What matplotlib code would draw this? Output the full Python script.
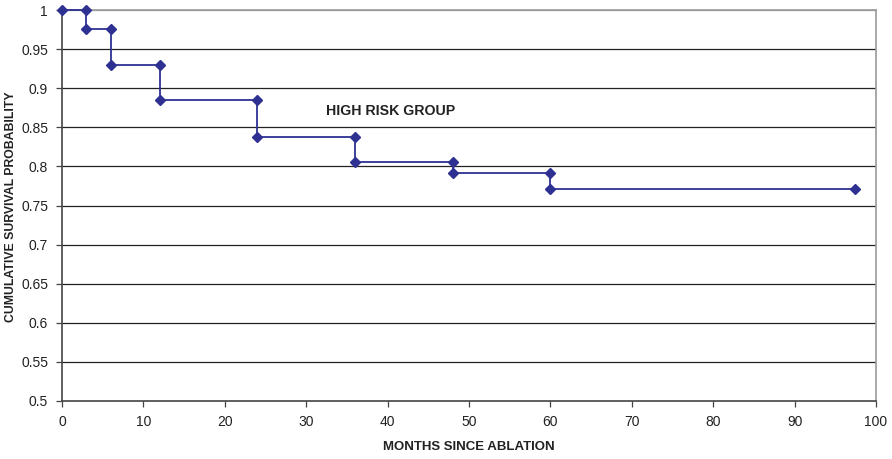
import matplotlib
matplotlib.use("Agg")
import matplotlib.pyplot as plt
from matplotlib import font_manager

fams = {f.name for f in font_manager.fontManager.ttflist}
tickfont = "Liberation Sans Narrow" if "Liberation Sans Narrow" in fams else "Liberation Sans"

months = [0, 3, 3, 6, 6, 12, 12, 24, 24, 36, 36, 48, 48, 60, 60, 97.4]
survival = [1.0, 1.0, 0.976, 0.976, 0.930, 0.930, 0.885, 0.885, 0.837, 0.837,
            0.806, 0.806, 0.792, 0.792, 0.771, 0.771]
xticks = list(range(0, 101, 10))
yticks = [0.5, 0.55, 0.6, 0.65, 0.7, 0.75, 0.8, 0.85, 0.9, 0.95, 1.0]
ytick_labels = ["0.5", "0.55", "0.6", "0.65", "0.7", "0.75", "0.8", "0.85", "0.9", "0.95", "1"]

fig = plt.figure(figsize=(8.92, 4.59), dpi=100)
ax = fig.add_axes([62/892, 1-401/459, (876-62)/892, (401-10)/459])

color = "#2E3192"
ax.plot(months, survival, color=color, lw=1.3, marker="D", ms=5.5,
        markerfacecolor=color, markeredgecolor=color, zorder=3, clip_on=False)

ax.set_xlim(0, 100)
ax.set_ylim(0.5, 1.0)
ax.set_xticks(xticks)
ax.set_yticks(yticks)
ax.set_yticklabels(ytick_labels)
for y in yticks[1:]:
    ax.axhline(y, color="#222222" if y < 1 else "#999999", lw=0.9, zorder=1)

for s in ["top", "right"]:
    ax.spines[s].set_color("#999999")
    ax.spines[s].set_linewidth(1.2)
for s in ["left", "bottom"]:
    ax.spines[s].set_color("#444444")
    ax.spines[s].set_linewidth(1.2)

ax.tick_params(axis="both", direction="out", length=4, width=0.9, color="#444444",
               labelsize=10, labelcolor="#222222", pad=6)
for lab in ax.get_xticklabels() + ax.get_yticklabels():
    lab.set_fontfamily(tickfont)

ax.set_xlabel("MONTHS SINCE ABLATION", fontsize=9.5, fontweight="bold",
              fontfamily="Liberation Sans", color="#222222")
ax.set_ylabel("CUMULATIVE SURVIVAL PROBABILITY", fontsize=8.8, fontweight="bold",
              fontfamily="Liberation Sans", color="#222222")
ax.xaxis.set_label_coords(0.5, -0.102)
ax.yaxis.set_label_coords(-0.0553, 0.496)

ax.text(32.4, 0.871, "HIGH RISK GROUP", fontsize=10.2, fontweight="bold",
        fontfamily="Liberation Sans", color="#222222", va="center", ha="left")

fig.savefig("out.png", dpi=100)
